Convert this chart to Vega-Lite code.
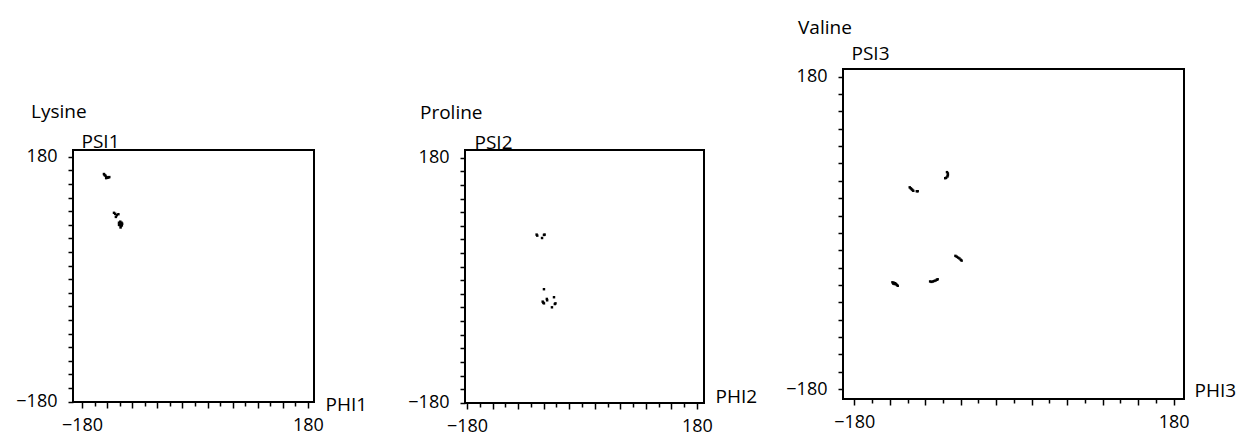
{
  "$schema": "https://vega.github.io/schema/vega-lite/v6.json",
  "background": "white",
  "padding": {"left": 14, "top": 18, "right": 0, "bottom": 0},
  "datasets": {
    "pts": [
      {"panel": "Lysine", "phi": -145, "psi": 154.5},
      {"panel": "Lysine", "phi": -144, "psi": 153},
      {"panel": "Lysine", "phi": -142.5, "psi": 152},
      {"panel": "Lysine", "phi": -141, "psi": 150},
      {"panel": "Lysine", "phi": -139.5, "psi": 149},
      {"panel": "Lysine", "phi": -138, "psi": 149.5},
      {"panel": "Lysine", "phi": -136.5, "psi": 150},
      {"panel": "Lysine", "phi": -141.5, "psi": 148.5},
      {"panel": "Lysine", "phi": -129, "psi": 97.5},
      {"panel": "Lysine", "phi": -127, "psi": 96},
      {"panel": "Lysine", "phi": -124.5, "psi": 94},
      {"panel": "Lysine", "phi": -122, "psi": 95.5},
      {"panel": "Lysine", "phi": -126, "psi": 91.5},
      {"panel": "Lysine", "phi": -121, "psi": 83},
      {"panel": "Lysine", "phi": -119, "psi": 84.5},
      {"panel": "Lysine", "phi": -117, "psi": 83},
      {"panel": "Lysine", "phi": -118, "psi": 81},
      {"panel": "Lysine", "phi": -120, "psi": 79.5},
      {"panel": "Lysine", "phi": -118, "psi": 78},
      {"panel": "Lysine", "phi": -116.5, "psi": 79},
      {"panel": "Lysine", "phi": -118.5, "psi": 76},
      {"panel": "Lysine", "phi": -121, "psi": 80},
      {"panel": "Lysine", "phi": -116, "psi": 81.5},
      {"panel": "Proline", "phi": -71, "psi": 67},
      {"panel": "Proline", "phi": -70, "psi": 65.5},
      {"panel": "Proline", "phi": -59.5, "psi": 66.5},
      {"panel": "Proline", "phi": -58.5, "psi": 67},
      {"panel": "Proline", "phi": -62.5, "psi": 62},
      {"panel": "Proline", "phi": -59.5, "psi": -13.2},
      {"panel": "Proline", "phi": -61.5, "psi": -31.5},
      {"panel": "Proline", "phi": -60.5, "psi": -33},
      {"panel": "Proline", "phi": -59.5, "psi": -34},
      {"panel": "Proline", "phi": -55, "psi": -27.5},
      {"panel": "Proline", "phi": -54.5, "psi": -29.5},
      {"panel": "Proline", "phi": -42.5, "psi": -35},
      {"panel": "Proline", "phi": -41.5, "psi": -34},
      {"panel": "Proline", "phi": -47, "psi": -39.8},
      {"panel": "Proline", "phi": -43.8, "psi": -25},
      {"panel": "Valine", "phi": -75.5, "psi": 70},
      {"panel": "Valine", "phi": -74.5, "psi": 68.5},
      {"panel": "Valine", "phi": -74.5, "psi": 66.5},
      {"panel": "Valine", "phi": -75, "psi": 65},
      {"panel": "Valine", "phi": -76.5, "psi": 63.5},
      {"panel": "Valine", "phi": -77.5, "psi": 63},
      {"panel": "Valine", "phi": -117.5, "psi": 52.5},
      {"panel": "Valine", "phi": -116.5, "psi": 51.5},
      {"panel": "Valine", "phi": -115.5, "psi": 50.5},
      {"panel": "Valine", "phi": -114.5, "psi": 49.5},
      {"panel": "Valine", "phi": -113.5, "psi": 48.5},
      {"panel": "Valine", "phi": -109.5, "psi": 48},
      {"panel": "Valine", "phi": -108.5, "psi": 48},
      {"panel": "Valine", "phi": -66, "psi": -26.5},
      {"panel": "Valine", "phi": -64.5, "psi": -27.5},
      {"panel": "Valine", "phi": -63, "psi": -28.5},
      {"panel": "Valine", "phi": -61.5, "psi": -29.5},
      {"panel": "Valine", "phi": -60, "psi": -31},
      {"panel": "Valine", "phi": -59, "psi": -32},
      {"panel": "Valine", "phi": -94.5, "psi": -56},
      {"panel": "Valine", "phi": -93, "psi": -56.5},
      {"panel": "Valine", "phi": -91.5, "psi": -56},
      {"panel": "Valine", "phi": -90, "psi": -55.5},
      {"panel": "Valine", "phi": -88.5, "psi": -55},
      {"panel": "Valine", "phi": -87, "psi": -54},
      {"panel": "Valine", "phi": -86, "psi": -53.5},
      {"panel": "Valine", "phi": -137, "psi": -57},
      {"panel": "Valine", "phi": -135.5, "psi": -57.5},
      {"panel": "Valine", "phi": -134, "psi": -58},
      {"panel": "Valine", "phi": -133, "psi": -59},
      {"panel": "Valine", "phi": -132, "psi": -60},
      {"panel": "Valine", "phi": -131, "psi": -61},
      {"panel": "Valine", "phi": -134.5, "psi": -59},
      {"panel": "Valine", "phi": -136, "psi": -58.5}
    ]
  },
  "spacing": 26,
  "hconcat": [
    {
      "spacing": 0,
      "vconcat": [
        {
          "width": 1,
          "height": 33,
          "data": {"values": []},
          "mark": "point",
          "view": {"stroke": null}
        },
        {
          "spacing": 38,
          "hconcat": [
            {
              "title": {"text": "Lysine", "dx": -42, "offset": 10},
              "width": 241,
              "height": 252,
              "data": {"name": "pts"},
              "transform": [{"filter": "datum.panel == 'Lysine'"}],
              "mark": {"type": "square", "size": 6, "color": "black", "opacity": 1},
              "encoding": {
                "x": {"field": "phi", "type": "quantitative",
                  "scale": {"domain": [-194.3, 189.6], "nice": false, "zero": false},
                  "axis": {"title": "PHI1", "titleX": 252, "titleY": 2, "titleAlign": "left", "titleBaseline": "middle", "titleAngle": 0,
                    "values": [-180, -160, -140, -120, -100, -80, -60, -40, -20, 0, 20, 40, 60, 80, 100, 120, 140, 160, 180],
                    "labelExpr": "abs(datum.value) == 180 ? datum.label : ''",
                    "tickSize": {"condition": {"test": "(datum.value + 180) % 40 == 0", "value": 6}, "value": 4},
                    "labelPadding": 8}},
                "y": {"field": "psi", "type": "quantitative",
                  "scale": {"domain": [-180.4, 189.8], "nice": false, "zero": false},
                  "axis": {"title": "PSI1", "titleX": 8, "titleY": -3, "titleAlign": "left", "titleBaseline": "alphabetic", "titleAngle": 0,
                    "values": [-180, -160, -140, -120, -100, -80, -60, -40, -20, 0, 20, 40, 60, 80, 100, 120, 140, 160, 180],
                    "labelExpr": "abs(datum.value) == 180 ? datum.label : ''",
                    "tickSize": 5, "labelPadding": 11}}
              }
            },
            {
              "title": {"text": "Proline", "dx": -45, "offset": 10},
              "width": 239,
              "height": 253,
              "data": {"name": "pts"},
              "transform": [{"filter": "datum.panel == 'Proline'"}],
              "mark": {"type": "square", "size": 6, "color": "black", "opacity": 1},
              "encoding": {
                "x": {"field": "phi", "type": "quantitative",
                  "scale": {"domain": [-183.1, 191], "nice": false, "zero": false},
                  "axis": {"title": "PHI2", "titleX": 250, "titleY": -7, "titleAlign": "left", "titleBaseline": "middle", "titleAngle": 0,
                    "values": [-180, -160, -140, -120, -100, -80, -60, -40, -20, 0, 20, 40, 60, 80, 100, 120, 140, 160, 180],
                    "labelExpr": "abs(datum.value) == 180 ? datum.label : ''",
                    "tickSize": {"condition": {"test": "(datum.value + 180) % 40 == 0", "value": 6}, "value": 4},
                    "labelPadding": 8}},
                "y": {"field": "psi", "type": "quantitative",
                  "scale": {"domain": [-180.4, 191.3], "nice": false, "zero": false},
                  "axis": {"title": "PSI2", "titleX": 9, "titleY": -2, "titleAlign": "left", "titleBaseline": "alphabetic", "titleAngle": 0,
                    "values": [-180, -160, -140, -120, -100, -80, -60, -40, -20, 0, 20, 40, 60, 80, 100, 120, 140, 160, 180],
                    "labelExpr": "abs(datum.value) == 180 ? datum.label : ''",
                    "tickSize": 5, "labelPadding": 11}}
              }
            }
          ]
        }
      ]
    },
    {
      "title": {"text": "Valine", "dx": -45, "offset": 6},
      "width": 341,
      "height": 330,
      "data": {"name": "pts"},
      "transform": [{"filter": "datum.panel == 'Valine'"}],
      "mark": {"type": "square", "size": 6, "color": "black", "opacity": 1},
      "encoding": {
        "x": {"field": "phi", "type": "quantitative",
          "scale": {"domain": [-192.7, 191.6], "nice": false, "zero": false},
          "axis": {"title": "PHI3", "titleX": 351, "titleY": -9, "titleAlign": "left", "titleBaseline": "middle", "titleAngle": 0,
            "values": [-180, -160, -140, -120, -100, -80, -60, -40, -20, 0, 20, 40, 60, 80, 100, 120, 140, 160, 180],
            "labelExpr": "abs(datum.value) == 180 ? datum.label : ''",
            "tickSize": {"condition": {"test": "(datum.value + 180) % 40 == 0", "value": 6}, "value": 4},
            "labelPadding": 8}},
        "y": {"field": "psi", "type": "quantitative",
          "scale": {"domain": [-191.5, 188.9], "nice": false, "zero": false},
          "axis": {"title": "PSI3", "titleX": 8, "titleY": -10, "titleAlign": "left", "titleBaseline": "alphabetic", "titleAngle": 0,
            "values": [-180, -160, -140, -120, -100, -80, -60, -40, -20, 0, 20, 40, 60, 80, 100, 120, 140, 160, 180],
            "labelExpr": "abs(datum.value) == 180 ? datum.label : ''",
            "tickSize": 5, "labelPadding": 11}}
      }
    }
  ],
  "config": {
    "font": "Open Sans",
    "view": {"stroke": "black", "strokeWidth": 2},
    "axis": {"domain": false, "grid": false, "ticks": true, "tickColor": "black", "tickWidth": 1.5,
      "labelFont": "Open Sans", "labelFontSize": 18, "labelColor": "black", "labelOverlap": false, "labelBound": false, "labelFlush": false,
      "titleFont": "Open Sans", "titleFontSize": 19, "titleFontWeight": "normal", "titleColor": "black"},
    "title": {"font": "Open Sans", "fontSize": 19, "fontWeight": "normal", "color": "black", "anchor": "start", "frame": "group"}
  }
}
